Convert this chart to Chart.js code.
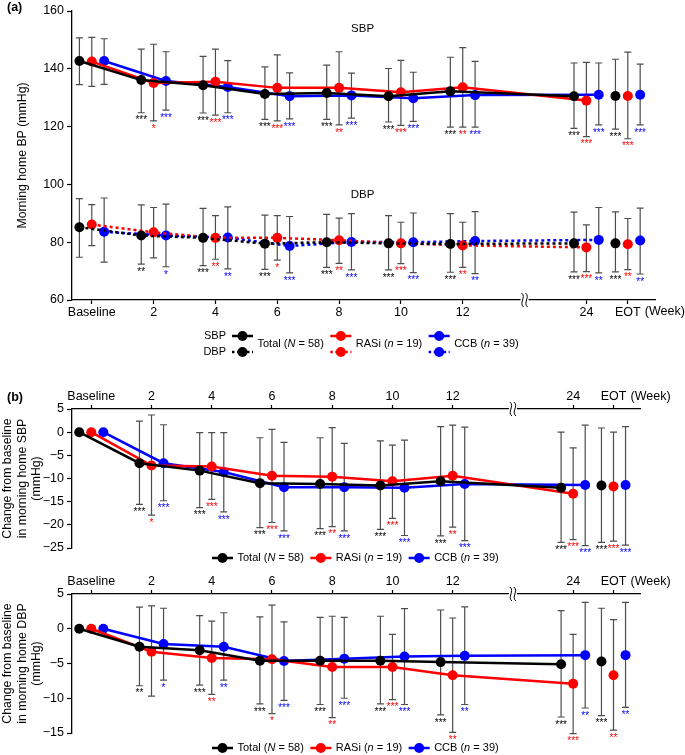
<!DOCTYPE html>
<html>
<head>
<meta charset="utf-8">
<script src="https://cdn.jsdelivr.net/npm/chart.js@4.4.0/dist/chart.umd.min.js"></script>
<style>
  body { margin: 0; background: #fff; }
  canvas { position: absolute; left: 0; }
</style>
</head>
<body>
<canvas id="chartA" width="685" height="375" style="top:0px"></canvas>
<canvas id="chartB" width="685" height="185" style="top:383px"></canvas>
<canvas id="chartC" width="685" height="187" style="top:568px"></canvas>
<script>
// time points (x positions keep the axis break between 12 and 24)
const weeks = ["Baseline", "2", "4", "6", "8", "10", "12", "24", "EOT"];
const weekPos = [0, 1, 2, 3, 4, 5, 6, 8, 8.67];
const groupNames = ["Total", "RASi", "CCB"];
const groupLetter = ["N", "n", "n"];
const groupCount = [58, 19, 39];

// (a) morning home SBP, mmHg (mean, upper and lower whisker)
const sbpTotal = [142.7, 136.1, 134.3, 131.3, 131.6, 130.5, 132.2, 130.5, 130.6];
const sbpTotalHi = [150.7, 146.8, 144.3, 140.7, 141.3, 140.1, 144.0, 142.0, 143.3];
const sbpTotalLo = [134.5, 124.8, 124.7, 122.5, 122.5, 121.6, 119.8, 119.4, 119.1];
const sbpRasi = [142.5, 135.1, 135.5, 133.4, 133.4, 131.9, 133.6, 129.0, 130.6];
const sbpRasiHi = [150.9, 148.5, 146.8, 144.8, 145.9, 142.9, 147.3, 142.2, 145.8];
const sbpRasiLo = [133.9, 122.0, 124.0, 122.0, 120.6, 120.4, 119.8, 116.5, 115.8];
const sbpCcb = [142.7, 135.8, 133.7, 130.5, 130.8, 129.8, 130.9, 131.0, 131.0];
const sbpCcbHi = [150.4, 145.9, 142.8, 138.6, 138.5, 138.8, 142.6, 142.0, 141.6];
const sbpCcbLo = [134.6, 125.7, 124.8, 122.7, 122.9, 121.8, 119.8, 120.6, 120.6];

// (a) morning home DBP, mmHg
const dbpTotal = [85.2, 82.3, 81.5, 79.5, 80.0, 79.6, 79.4, 79.6, 79.6];
const dbpTotalHi = [95.1, 92.9, 91.7, 89.4, 89.6, 89.2, 89.9, 90.4, 90.5];
const dbpTotalLo = [74.8, 72.4, 71.9, 70.6, 71.3, 70.4, 69.6, 69.7, 69.7];
const dbpRasi = [86.1, 83.4, 81.5, 81.5, 80.7, 79.6, 78.9, 78.2, 79.3];
const dbpRasiHi = [93.0, 92.0, 89.2, 89.2, 88.3, 86.9, 86.9, 86.0, 88.2];
const dbpRasiLo = [78.8, 74.6, 74.1, 73.8, 72.7, 72.6, 71.3, 69.8, 70.5];
const dbpCcb = [83.6, 82.3, 81.6, 78.7, 80.1, 80.0, 80.4, 80.8, 80.6];
const dbpCcbHi = [95.3, 93.2, 92.2, 88.9, 89.9, 90.1, 90.6, 92.0, 91.8];
const dbpCcbLo = [73.1, 71.5, 70.8, 69.4, 70.4, 69.5, 69.1, 69.4, 69.0];

// (b) change from baseline in SBP
const dSbpTotal = [0, -6.7, -8.3, -11.0, -11.2, -11.5, -10.6, -12.0, -11.5];
const dSbpTotalHi = [null, 2.4, -0.1, -1.2, -1.2, -1.9, 1.2, 0.0, 0.9];
const dSbpTotalLo = [null, -15.6, -16.3, -20.6, -20.8, -21.0, -22.4, -23.8, -23.8];
const dSbpRasi = [0, -7.2, -7.4, -9.4, -9.6, -10.6, -9.4, -13.3, -11.7];
const dSbpRasiHi = [null, 3.7, -0.1, 0.6, 1.0, -2.8, 1.5, -3.4, 0.0];
const dSbpRasiLo = [null, -17.9, -14.5, -19.5, -20.4, -18.6, -20.5, -23.2, -23.5];
const dSbpCcb = [0, -6.7, -8.6, -11.9, -11.9, -12.0, -11.2, -11.4, -11.4];
const dSbpCcbHi = [null, 1.6, -0.1, -2.2, -2.4, -1.7, 1.1, 1.5, 1.2];
const dSbpCcbLo = [null, -14.8, -17.2, -21.3, -21.3, -22.3, -23.4, -24.5, -24.4];

// (b) change from baseline in DBP
const dDbpTotal = [0, -2.6, -3.1, -4.6, -4.6, -4.6, -4.8, -5.1, -4.7];
const dDbpTotalHi = [null, 3.1, 1.9, 1.7, 1.65, 1.8, 2.7, 2.6, 2.95];
const dDbpTotalLo = [null, -8.2, -8.1, -10.8, -10.9, -10.8, -12.4, -12.7, -12.5];
const dDbpRasi = [0, -3.3, -4.2, -4.4, -5.5, -5.5, -6.7, -7.9, -6.7];
const dDbpRasiHi = [null, 3.3, 1.1, 3.4, 1.8, -0.8, 1.55, -0.8, 1.3];
const dDbpRasiLo = [null, -9.7, -9.45, -12.2, -12.8, -10.2, -14.9, -15.1, -14.6];
const dDbpCcb = [0, -2.2, -2.6, -4.65, -4.3, -4.0, -3.9, -3.8, -3.8];
const dDbpCcbHi = [null, 2.95, 2.3, 1.0, 1.65, 2.9, 3.15, 3.8, 3.8];
const dDbpCcbLo = [null, -7.4, -7.4, -10.3, -10.0, -10.9, -10.9, -11.4, -11.3];

// significance vs baseline
const sbpSigTotal = ["", "***", "***", "***", "***", "***", "***", "***", "***"];
const sbpSigRasi = ["", "*", "***", "***", "**", "***", "**", "***", "***"];
const sbpSigCcb = ["", "***", "***", "***", "***", "***", "***", "***", "***"];
const dbpSigTotal = ["", "**", "***", "***", "***", "***", "***", "***", "***"];
const dbpSigRasi = ["", "", "**", "*", "**", "***", "**", "***", "**"];
const dbpSigCcb = ["", "*", "**", "***", "***", "***", "**", "**", "**"];

const FONT = '"Liberation Sans", Arial, Helvetica, sans-serif';
const colors = ["#000000", "#ff0000", "#0000ff"];
const shift = [-0.2, 0, 0.2];
const barColor = "#4d4d4d";

Chart.defaults.font.family = FONT;
Chart.defaults.color = "#000";

function groupSets(means, his, los, sigs, dashed) {
  return means.map((m, g) => ({
    label: groupNames[g],
    data: m.map((v, i) => ({ x: weekPos[i] + shift[g], y: v })),
    hi: his[g], lo: los[g], sig: sigs[g],
    borderColor: colors[g],
    backgroundColor: colors[g],
    pointBackgroundColor: colors[g],
    pointBorderWidth: 0,
    pointRadius: 5,
    pointHoverRadius: 5,
    borderWidth: 2.5,
    borderDash: dashed ? [3, 3] : [],
    borderCapStyle: "butt",
    tension: 0,
    clip: false,
    // EOT is not joined to week 24
    segment: { borderColor: c => c.p1DataIndex === 8 ? "rgba(0,0,0,0)" : undefined }
  }));
}

// whiskers under the points, stars under the whiskers
const errorBars = {
  id: "errorBars",
  beforeDatasetsDraw(chart) {
    const ctx = chart.ctx, xs = chart.scales.x, ys = chart.scales.y;
    ctx.save();
    chart.data.datasets.forEach((ds, g) => {
      ds.data.forEach((p, i) => {
        if (ds.hi[i] == null) return;
        const px = xs.getPixelForValue(p.x);
        const top = ys.getPixelForValue(ds.hi[i]);
        const bot = ys.getPixelForValue(ds.lo[i]);
        ctx.strokeStyle = barColor;
        ctx.lineWidth = 1.2;
        ctx.beginPath();
        ctx.moveTo(px, top); ctx.lineTo(px, bot);
        ctx.moveTo(px - 3.5, top); ctx.lineTo(px + 3.5, top);
        ctx.moveTo(px - 3.5, bot); ctx.lineTo(px + 3.5, bot);
        ctx.stroke();
        if (ds.sig[i]) {
          ctx.fillStyle = ds.borderColor;
          ctx.font = "10px " + FONT;
          ctx.textAlign = "center";
          ctx.textBaseline = "top";
          ctx.fillText(ds.sig[i], px, bot + 3);
        }
      });
    });
    ctx.restore();
  }
};

function xAxis(pos) {
  return {
    type: "linear", position: pos, min: -0.32, max: 9.11,
    afterBuildTicks: s => { s.ticks = weekPos.map(v => ({ value: v })); },
    afterFit: s => { s.height = 26; },
    ticks: {
      callback: (v, i) => weeks[i],
      font: { size: 12.5 }, color: "#000", padding: 1,
      maxRotation: 0, autoSkip: false
    },
    grid: { drawOnChartArea: false, tickLength: 4, tickColor: "#000", tickWidth: 1.2 },
    border: { color: "#000", width: 1.3 }
  };
}

function yAxis(min, max, step, title, titlePad) {
  return {
    min, max,
    afterFit: s => { s.width = 72; },
    ticks: {
      stepSize: step, font: { size: 12.5 }, color: "#000", padding: 3,
      callback: v => String(v).replace("-", "\u2212")
    },
    grid: { drawOnChartArea: false, tickLength: 5, tickColor: "#000", tickWidth: 1.2 },
    border: { color: "#000", width: 1.3 },
    title: { display: true, text: title, font: { size: 12.3 }, color: "#000", padding: { top: titlePad, bottom: 0 } }
  };
}

function drawBreak(chart, atTop) {
  const ctx = chart.ctx;
  const px = chart.scales.x.getPixelForValue(7);
  const py = atTop ? chart.chartArea.top : chart.chartArea.bottom;
  ctx.save();
  ctx.fillStyle = "#fff";
  ctx.fillRect(px - 4, py - 2, 8, 4);
  ctx.strokeStyle = "#000";
  ctx.lineWidth = 1;
  [-2, 2].forEach(dx => {
    ctx.beginPath();
    ctx.moveTo(px + dx - 1, py - 7);
    ctx.bezierCurveTo(px + dx + 4, py - 3, px + dx - 4, py + 3, px + dx + 1, py + 7);
    ctx.stroke();
  });
  ctx.restore();
}

function drawWeek(chart, y) {
  const ctx = chart.ctx;
  ctx.save();
  ctx.font = "12.5px " + FONT;
  ctx.fillStyle = "#000";
  ctx.textAlign = "left";
  ctx.textBaseline = "middle";
  ctx.fillText("(Week)", chart.scales.x.getPixelForValue(8.67) + 17, y);
  ctx.restore();
}

function drawLegend(ctx, x0, rows, textY) {
  let x = x0;
  ctx.save();
  ctx.textBaseline = "middle";
  ctx.textAlign = "left";
  groupNames.forEach((name, g) => {
    rows.forEach(r => {
      ctx.strokeStyle = colors[g];
      ctx.fillStyle = colors[g];
      ctx.lineWidth = 2.5;
      ctx.setLineDash(r.dash);
      ctx.beginPath();
      ctx.moveTo(x, r.y); ctx.lineTo(x + 21, r.y);
      ctx.stroke();
      ctx.setLineDash([]);
      ctx.beginPath();
      ctx.arc(x + 10.5, r.y, 5, 0, Math.PI * 2);
      ctx.fill();
    });
    x += 25.5;
    ctx.fillStyle = "#000";
    const parts = [[name + " (", ""], [groupLetter[g], "italic "], [" = " + groupCount[g] + ")", ""]];
    parts.forEach(([t, style]) => {
      ctx.font = style + "11px " + FONT;
      ctx.fillText(t, x, textY);
      x += ctx.measureText(t).width;
    });
    x += 6.5;
  });
  ctx.restore();
}

function panelLabel(ctx, text, x, y) {
  ctx.save();
  ctx.font = "bold 12.5px " + FONT;
  ctx.fillStyle = "#000";
  ctx.textBaseline = "middle";
  ctx.textAlign = "left";
  ctx.fillText(text, x, y);
  ctx.restore();
}

function makeChart(id, datasets, yOpts, pad, xPos, deco) {
  return new Chart(document.getElementById(id), {
    type: "line",
    data: { datasets },
    options: {
      responsive: false,
      animation: false,
      events: [],
      layout: { padding: pad },
      plugins: { legend: { display: false }, tooltip: { enabled: false } },
      scales: { x: xAxis(xPos), y: yOpts }
    },
    plugins: [errorBars, { id: "deco", afterDraw: deco }]
  });
}

// (a)
const setsA = groupSets([sbpTotal, sbpRasi, sbpCcb], [sbpTotalHi, sbpRasiHi, sbpCcbHi],
  [sbpTotalLo, sbpRasiLo, sbpCcbLo], [sbpSigTotal, sbpSigRasi, sbpSigCcb], false)
  .concat(groupSets([dbpTotal, dbpRasi, dbpCcb], [dbpTotalHi, dbpRasiHi, dbpCcbHi],
  [dbpTotalLo, dbpRasiLo, dbpCcbLo], [dbpSigTotal, dbpSigRasi, dbpSigCcb], true));

makeChart("chartA", setsA, yAxis(60, 160, 20, "Morning home BP (mmHg)", 15),
  { top: 11, right: 30, bottom: 49, left: 0 }, "bottom", chart => {
    const ctx = chart.ctx, xs = chart.scales.x, ys = chart.scales.y;
    panelLabel(ctx, "(a)", 7, 8);
    ctx.save();
    ctx.font = "11.5px " + FONT;
    ctx.fillStyle = "#000";
    ctx.textAlign = "center";
    ctx.textBaseline = "middle";
    ctx.fillText("SBP", xs.getPixelForValue(4.38), ys.getPixelForValue(154));
    ctx.fillText("DBP", xs.getPixelForValue(4.38), ys.getPixelForValue(96.5));
    ctx.font = "11px " + FONT;
    ctx.textAlign = "right";
    ctx.fillText("SBP", 226, 336);
    ctx.fillText("DBP", 226, 352);
    ctx.restore();
    drawBreak(chart, false);
    drawWeek(chart, chart.chartArea.bottom + 12);
    drawLegend(ctx, 232, [{ y: 336, dash: [] }, { y: 352, dash: [2.5, 2.5] }], 344);
  });

// (b) SBP change
makeChart("chartB", groupSets([dSbpTotal, dSbpRasi, dSbpCcb], [dSbpTotalHi, dSbpRasiHi, dSbpCcbHi],
  [dSbpTotalLo, dSbpRasiLo, dSbpCcbLo], [sbpSigTotal, sbpSigRasi, sbpSigCcb], false),
  yAxis(-25, 5, 5, ["Change from baseline", "in morning home SBP", "(mmHg)"], 0),
  { top: 0, right: 45, bottom: 20, left: 0 }, "top", chart => {
    panelLabel(chart.ctx, "(b)", 7, 15);
    drawBreak(chart, true);
    drawWeek(chart, chart.chartArea.top - 12);
    drawLegend(chart.ctx, 212, [{ y: 175, dash: [] }], 175);
  });

// (b) DBP change
makeChart("chartC", groupSets([dDbpTotal, dDbpRasi, dDbpCcb], [dDbpTotalHi, dDbpRasiHi, dDbpCcbHi],
  [dDbpTotalLo, dDbpRasiLo, dDbpCcbLo], [dbpSigTotal, dbpSigRasi, dbpSigCcb], false),
  yAxis(-15, 5, 5, ["Change from baseline", "in morning home DBP", "(mmHg)"], 0),
  { top: 0, right: 45, bottom: 22, left: 0 }, "top", chart => {
    drawBreak(chart, true);
    drawWeek(chart, chart.chartArea.top - 12);
    drawLegend(chart.ctx, 212, [{ y: 180, dash: [] }], 180);
  });
</script>
</body>
</html>
